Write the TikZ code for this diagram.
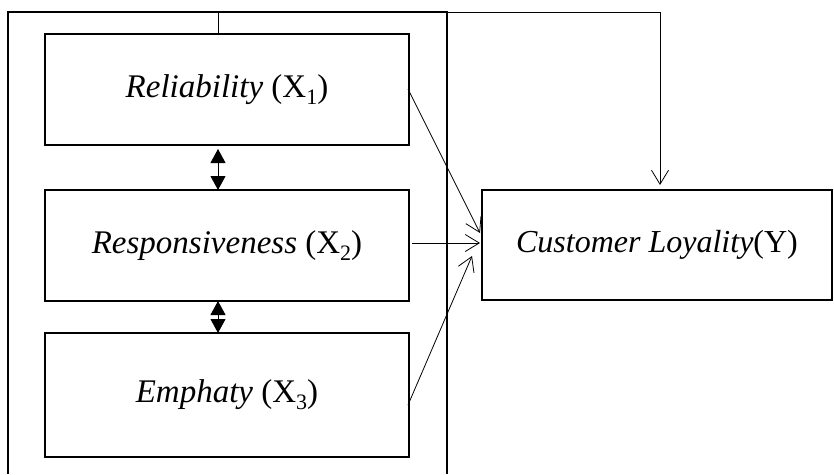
\documentclass[tikz,border=0pt]{standalone}
\usepackage{fontspec}
\setmainfont{Liberation Serif}
\usetikzlibrary{arrows.meta}
\newcommand{\sbs}[1]{\raisebox{-0.45ex}{\fontsize{22}{22}\selectfont #1}}
\tikzset{
  varbox/.style={draw, line width=1.2pt, inner sep=0pt, minimum width=364pt, font=\fontsize{33}{38}\selectfont},
  thinline/.style={line width=0.8pt},
  barb/.style={thinline, -{Straight Barb[length=14pt,width=17pt,line width=0.8pt]}},
  dbl/.style={line width=0.8pt, {Triangle[length=14pt,width=15pt]}-{Triangle[length=14pt,width=15pt]}}
}
\begin{document}
\begin{tikzpicture}[x=1pt,y=-1pt]
\useasboundingbox (0,0) rectangle (834,474);
\node[varbox, minimum height=111pt] (r) at (227,89.5) {\textit{Reliability} (X\sbs{1})};
\node[varbox, minimum height=111pt] (s) at (227,245.5) {\textit{Responsiveness} (X\sbs{2})};
\node[varbox, minimum height=124pt] (e) at (227,395) {\textit{Emphaty} (X\sbs{3})};
\node[draw, line width=1.2pt, inner sep=0pt, minimum width=350pt, minimum height=110pt, font=\fontsize{32}{38}\selectfont] (y) at (657,245) {\textit{Customer Loyality}(Y)};
% outer frame
\coordinate (fbl) at (8,474);
\coordinate (ftl) at (8,12);
\coordinate (ftr) at (447,12);
\coordinate (fbr) at (447,474);
\draw[line width=1.2pt] (fbl) -- (ftl) -- (ftr) -- (fbr);
% top link
\coordinate (rt) at (218,34);
\coordinate (tt) at (218,12);
\coordinate (tc) at (660,12);
\coordinate (ytip) at (660,185);
\draw[thinline] (rt) -- (tt);
\draw[barb] (ftr) -- (tc) -- (ytip);
% arrows to Y
\coordinate (a1s) at (408,89);
\coordinate (a1e) at (480,233);
\coordinate (a2s) at (412,243);
\coordinate (a2e) at (480,243);
\coordinate (a3s) at (408,405);
\coordinate (a3e) at (472,256);
\draw[barb] (a1s) -- (a1e);
\draw[barb] (a2s) -- (a2e);
\draw[barb] (a3s) -- (a3e);
% double arrows
\draw[dbl] (218,149) -- (218,190);
\draw[dbl] (218,301) -- (218,333);
\end{tikzpicture}
\end{document}
